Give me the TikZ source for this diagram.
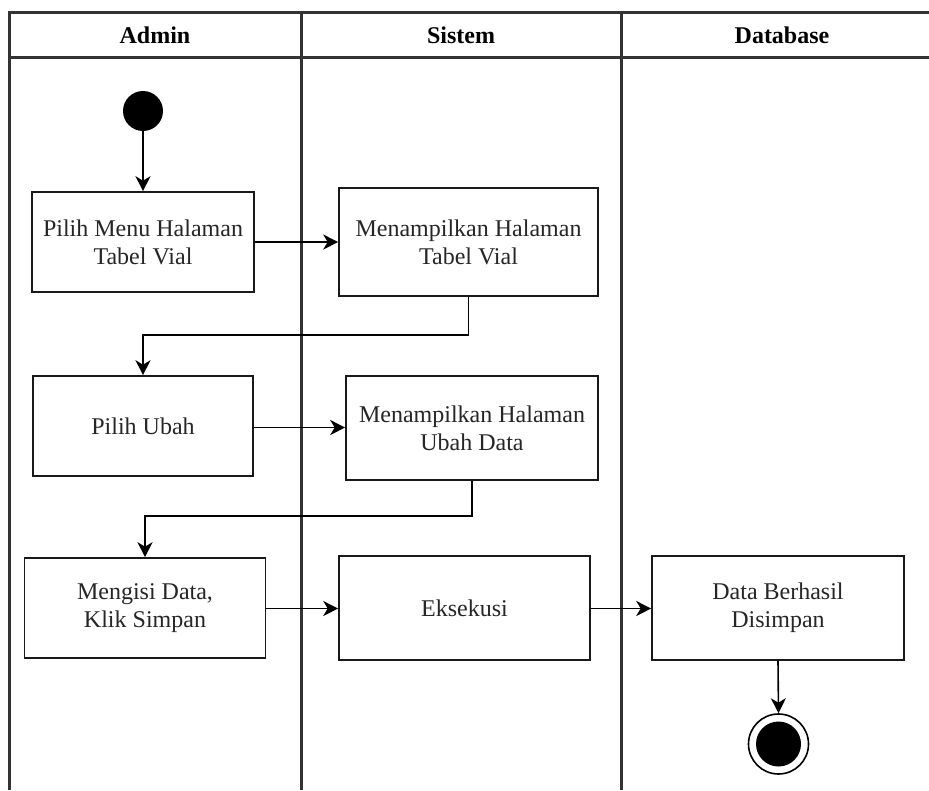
\documentclass[tikz,border=0pt]{standalone}
\usepackage{fontspec}
\setmainfont{Liberation Serif}
\usetikzlibrary{arrows.meta}

\tikzset{
  lane/.style={line width=3pt, draw=black!80},
  actbox/.style={draw=black!90, line width=1.6pt, fill=white, rectangle,
    align=center, inner sep=0pt, text=black!85,
    font=\fontsize{24}{28}\selectfont},
  flow/.style={line width=1.6pt, draw=black,
    -{Stealth[length=15pt,width=15pt,inset=4.5pt]}},
  lanehead/.style={font=\fontsize{24}{28}\selectfont\bfseries},
}

\begin{document}
\begin{tikzpicture}[x=1pt,y=-1pt]
\useasboundingbox (0,0) rectangle (929,790);

% swimlane frame
\draw[lane] (9,790) -- (9,12) -- (929,12);
\draw[lane] (9,57.5) -- (929,57.5);
\draw[lane] (301,12) -- (301,790);
\draw[lane] (621,12) -- (621,790);

\node[lanehead] (hAdmin) at (155,35) {Admin};
\node[lanehead] (hSistem) at (461,35) {Sistem};
\node[lanehead] (hDb) at (782,35) {Database};

% start and end states
\node[circle, fill=black, minimum size=40pt, inner sep=0pt] (start) at (143,111) {};
\node[circle, draw=black, line width=1.6pt, fill=white, minimum size=60pt, inner sep=0pt] (finish) at (778.5,744) {};
\node[circle, fill=black, minimum size=45pt, inner sep=0pt] (finishdot) at (finish.center) {};

% activities
\node[actbox, minimum width=222pt, minimum height=100pt] (pilihMenu) at (143,242) {Pilih Menu Halaman\\Tabel Vial};
\node[actbox, minimum width=259pt, minimum height=108pt] (tampilTabel) at (468.5,242) {Menampilkan Halaman\\Tabel Vial};
\node[actbox, minimum width=220pt, minimum height=100pt] (pilihUbah) at (143,426) {Pilih Ubah};
\node[actbox, minimum width=252pt, minimum height=104pt] (tampilUbah) at (472,428) {Menampilkan Halaman\\Ubah Data};
\node[actbox, minimum width=241pt, minimum height=100pt] (mengisi) at (145,608) {Mengisi Data,\\Klik Simpan};
\node[actbox, minimum width=251pt, minimum height=104pt] (eksekusi) at (464.5,608) {Eksekusi};
\node[actbox, minimum width=252pt, minimum height=104pt] (simpan) at (778,608) {Data Berhasil\\Disimpan};

% control flow
\draw[flow] (start) -- (pilihMenu);
\draw[flow] (pilihMenu.east |- 0,242) -- (tampilTabel.west |- 0,242);
\draw[flow] (tampilTabel.south) -- ++(0,38) -| (pilihUbah.north);
\draw[flow] (pilihUbah.east |- 0,427.5) -- (tampilUbah.west |- 0,427.5);
\draw[flow] (tampilUbah.south) -- ++(0,35) -| (mengisi.north);
\draw[flow] (mengisi.east |- 0,608.5) -- (eksekusi.west |- 0,608.5);
\draw[flow] (eksekusi.east |- 0,608.5) -- (simpan.west |- 0,608.5);
\draw[flow] (simpan.south) -- (finish.north);
\end{tikzpicture}
\end{document}
